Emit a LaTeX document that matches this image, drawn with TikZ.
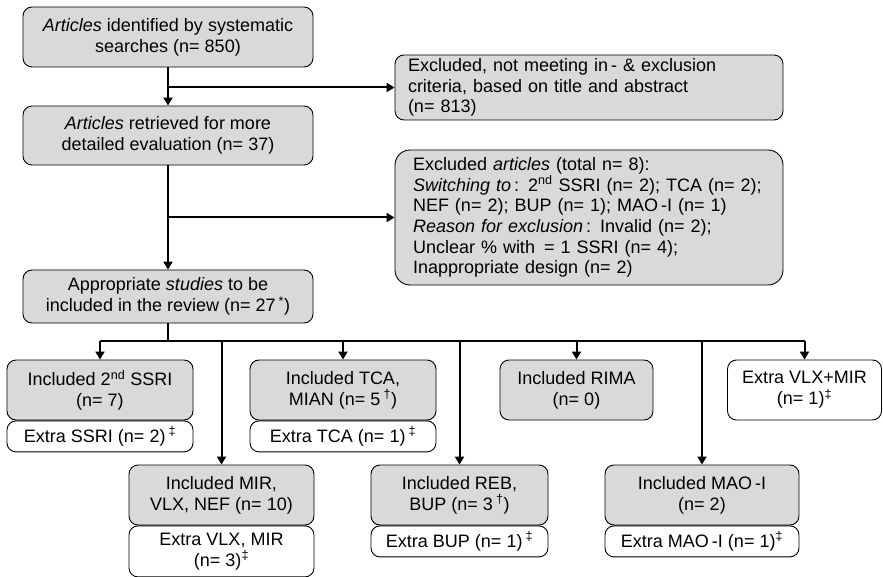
\documentclass[tikz,border=0pt]{standalone}
\usepackage{fontspec}
\setmainfont{Liberation Sans}
\usepackage{tikz}
\usetikzlibrary{arrows.meta}
\definecolor{boxgray}{HTML}{D9D9D9}

\begin{document}
\begin{tikzpicture}[x=1pt,y=-1pt,
	font=\fontsize{18}{20.7}\selectfont,
	box/.style={draw, line width=0.9pt, rounded corners=9pt, align=center, inner sep=0pt},
	graybox/.style={box, fill=boxgray},
	extrabox/.style={box, fill=white, anchor=north},
	exclbox/.style={graybox, align=left},
	flow/.style={line width=2pt, -{Triangle[length=8pt,width=9pt]}}]
	\useasboundingbox (0,0) rectangle (883,577);
	% main column
	\node[graybox, minimum width=290pt, minimum height=60pt] (art) at (168,37) {\textit{Articles} identified by systematic\\searches (n= 850)};
	\node[graybox, minimum width=290pt, minimum height=59pt] (ret) at (168,135.5) {\textit{Articles} retrieved for more\\detailed evaluation (n= 37)};
	\node[graybox, minimum width=290pt, minimum height=53pt] (app) at (168,296.5) {Appropriate \textit{studies} to be\\included in the review (n= 27\,\textsuperscript{*})};
	% exclusions
	\node[exclbox, minimum width=388pt, minimum height=65pt, text width=362pt] (exa) at (589,87.5) {Excluded, not meeting in\,- \& exclusion\\criteria, based on title and abstract\\(n= 813)};
	\node[exclbox, rounded corners=15pt, minimum width=388pt, minimum height=135pt, text width=352pt] (exb) at (589,217.5) {Excluded \textit{articles} (total n= 8):\\\textit{Switching to}\,: 2\textsuperscript{nd} SSRI (n= 2); TCA (n= 2);\\NEF (n= 2); BUP (n= 1); MAO\,-I (n= 1)\\\textit{Reason for exclusion}\,: Invalid (n= 2);\\Unclear \% with \,= 1 SSRI (n= 4);\\Inappropriate design (n= 2)};
	% included groups
	\node[graybox, minimum width=186pt, minimum height=60pt] (ssri) at (100,390) {Included 2\textsuperscript{nd} SSRI\\(n= 7)};
	\node[extrabox, minimum width=186pt, minimum height=31pt] (xssri) at (ssri.south) {Extra SSRI (n= 2)\,\textsuperscript{‡}};
	\node[graybox, minimum width=186pt, minimum height=60pt] (tca) at (343,390) {Included TCA,\\MIAN (n= 5\,\textsuperscript{†})};
	\node[extrabox, minimum width=186pt, minimum height=31pt] (xtca) at (tca.south) {Extra TCA (n= 1)\,\textsuperscript{‡}};
	\node[graybox, minimum width=153pt, minimum height=60pt] (rima) at (576.5,390) {Included RIMA\\(n= 0)};
	\node[box, minimum width=154pt, minimum height=60pt] (vlxmir) at (804.5,390) {Extra VLX+MIR\\(n= 1)\textsuperscript{‡}};
	\node[graybox, minimum width=185pt, minimum height=60pt] (mir) at (221.5,495) {Included MIR,\\VLX, NEF (n= 10)};
	\node[extrabox, minimum width=185pt, minimum height=51pt] (xmir) at (mir.south) {Extra VLX, MIR\\(n= 3)\textsuperscript{‡}};
	\node[graybox, minimum width=177pt, minimum height=60pt] (reb) at (459.5,495) {Included REB,\\BUP (n= 3\,\textsuperscript{†})};
	\node[extrabox, minimum width=177pt, minimum height=31pt] (xreb) at (reb.south) {Extra BUP (n= 1)\,\textsuperscript{‡}};
	\node[graybox, minimum width=194pt, minimum height=60pt] (mao) at (702,495) {Included MAO\,-I\\(n= 2)};
	\node[extrabox, minimum width=194pt, minimum height=31pt] (xmao) at (mao.south) {Extra MAO\,-I (n= 1)\textsuperscript{‡}};
	% connectors
	\coordinate (bus) at (168,341);
	\draw[flow] (art.south) -- (ret.north);
	\draw[flow] (art.south |- exa.west) -- (exa.west);
	\draw[flow] (ret.south) -- (app.north);
	\draw[flow] (ret.south |- exb.west) -- (exb.west);
	\draw[line width=2.5pt] (app.south) -- (bus);
	\draw[line width=2.5pt] (ssri.north |- bus) -- (vlxmir.north |- bus);
	\draw[flow] (ssri.north |- bus) -- (ssri.north);
	\draw[flow] (mir.north |- bus) -- (mir.north);
	\draw[flow] (tca.north |- bus) -- (tca.north);
	\draw[flow] (reb.north |- bus) -- (reb.north);
	\draw[flow] (rima.north |- bus) -- (rima.north);
	\draw[flow] (mao.north |- bus) -- (mao.north);
	\draw[flow] (vlxmir.north |- bus) -- (vlxmir.north);
\end{tikzpicture}
\end{document}
